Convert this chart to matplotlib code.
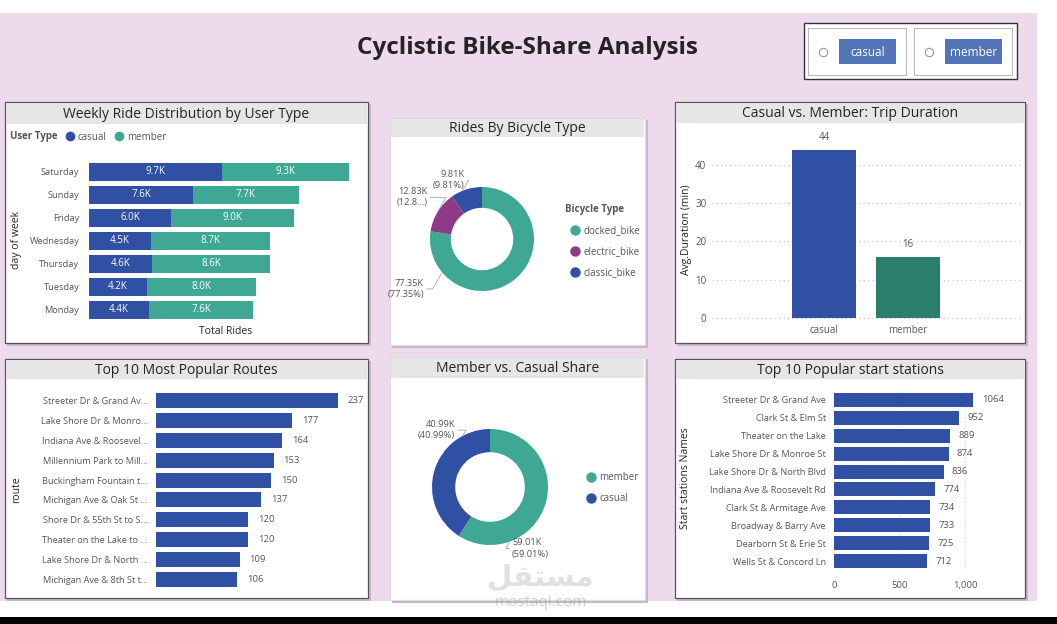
import matplotlib
matplotlib.use("Agg")
import matplotlib.pyplot as plt
from matplotlib.patches import Rectangle
from matplotlib.lines import Line2D
import numpy as np

plt.rcParams['font.family'] = ['Open Sans', 'DejaVu Sans']

# ---- data ----
days = ['Saturday', 'Sunday', 'Friday', 'Wednesday', 'Thursday', 'Tuesday', 'Monday']
casual_rides = [9.7, 7.6, 6.0, 4.5, 4.6, 4.2, 4.4]
member_rides = [9.3, 7.7, 9.0, 8.7, 8.6, 8.0, 7.6]

bike_types = ['docked_bike', 'electric_bike', 'classic_bike']
bike_rides = [77.35, 12.83, 9.81]
bike_labels = ['77.35K\n(77.35%)', '12.83K\n(12.8...)', '9.81K\n(9.81%)']

user_types = ['casual', 'member']
avg_duration = [44, 16]

routes = ['Streeter Dr & Grand Av...', 'Lake Shore Dr & Monro...', 'Indiana Ave & Roosevel...',
          'Millennium Park to Mill...', 'Buckingham Fountain t...', 'Michigan Ave & Oak St ...',
          'Shore Dr & 55th St to S...', 'Theater on the Lake to ...', 'Lake Shore Dr & North ...',
          'Michigan Ave & 8th St t...']
route_counts = [237, 177, 164, 153, 150, 137, 120, 120, 109, 106]

share_types = ['member', 'casual']
share_rides = [59.01, 40.99]
share_labels = ['59.01K\n(59.01%)', '40.99K\n(40.99%)']

stations = ['Streeter Dr & Grand Ave', 'Clark St & Elm St', 'Theater on the Lake',
            'Lake Shore Dr & Monroe St', 'Lake Shore Dr & North Blvd', 'Indiana Ave & Roosevelt Rd',
            'Clark St & Armitage Ave', 'Broadway & Barry Ave', 'Dearborn St & Erie St',
            'Wells St & Concord Ln']
station_counts = [1064, 952, 889, 874, 836, 774, 734, 733, 725, 712]

# ---- colours ----
BLUE = '#2F50A3'
TEAL = '#3EA894'
DGREEN = '#2A7E6C'
PURPLE = '#8E3A86'
LAV = '#EDDAED'
TXT = '#555555'
DARK = '#252423'

W, H = 1057, 624
fig = plt.figure(figsize=(W / 100, H / 100), dpi=100, facecolor='white')


def box(x0, y0, x1, y1):
    return [x0 / W, 1 - y1 / H, (x1 - x0) / W, (y1 - y0) / H]


def rect(x0, y0, x1, y1, zorder=-3, **kw):
    r = Rectangle((x0 / W, 1 - y1 / H), (x1 - x0) / W, (y1 - y0) / H,
                  transform=fig.transFigure, zorder=zorder, **kw)
    fig.patches.append(r)


def ftext(x, y, s, **kw):
    fig.text(x / W, 1 - y / H, s, **kw)


# background
rect(0, 13, 1037, 601, facecolor=LAV, edgecolor='none', zorder=-5)
rect(0, 617, W, H, facecolor='black', edgecolor='none', zorder=-5)

ftext(527, 48, 'Cyclistic Bike-Share Analysis', ha='center', va='center',
      fontsize=17.5, fontweight='bold', color=DARK)

# slicer
rect(804, 23, 1017, 79, facecolor='white', edgecolor='#333333', lw=1, zorder=-4)
for i, lab in enumerate(user_types):
    x0 = 808 + i * 106
    rect(x0, 28, x0 + 98, 75, facecolor='white', edgecolor='#BBBBBB', lw=0.8, zorder=-3)
    fig.add_artist(Line2D([(x0 + 15) / W], [1 - 52 / H], marker='o', ms=6, mfc='white',
                          mec='#999999', mew=0.8, transform=fig.transFigure, zorder=3))
    rect(x0 + 31, 39, x0 + 88, 64, facecolor='#5474B8', edgecolor='none', zorder=-2)
    ftext(x0 + 59.5, 52, lab, ha='center', va='center', fontsize=8.5, color='white', zorder=4)


def panel(x0, y0, x1, y1, tb, title, edge='#555555'):
    rect(x0 + 2, y0 + 2, x1 + 3, y1 + 3, facecolor='#C9B5CB', edgecolor='none', zorder=-4)
    rect(x0, y0, x1, y1, facecolor='white', edgecolor=edge, lw=0.9, zorder=-3)
    rect(x0 + 1, y0 + 1, x1 - 1, tb, facecolor='#E6E6E6', edgecolor='none', zorder=-2)
    ftext((x0 + x1) / 2, (y0 + tb) / 2 + 1, title, ha='center', va='center',
          fontsize=10, color=DARK, zorder=2)


panel(5, 102, 368, 343, 124, 'Weekly Ride Distribution by User Type')
panel(390, 118, 645, 345, 137, 'Rides By Bicycle Type', edge='#DDDDDD')
panel(675, 102, 1025, 343, 123, 'Casual vs. Member: Trip Duration')
panel(5, 359, 368, 598, 379, 'Top 10 Most Popular Routes')
panel(390, 357, 645, 600, 378, 'Member vs. Casual Share', edge='#DDDDDD')
panel(675, 359, 1025, 598, 379, 'Top 10 Popular start stations')


def clean(ax):
    for s in ax.spines.values():
        s.set_visible(False)
    ax.set_facecolor('none')
    ax.tick_params(length=0)
    ax.set_zorder(2)


# ---- weekly stacked bars ----
ax1 = fig.add_axes(box(89, 160.5, 352, 321.5))
clean(ax1)
yy = np.arange(len(days))
b1 = ax1.barh(yy, casual_rides, height=0.74, color=BLUE)
b2 = ax1.barh(yy, member_rides, left=casual_rides, height=0.74, color=TEAL)
ax1.bar_label(b1, labels=[f'{v:.1f}K' for v in casual_rides], label_type='center',
              color='white', fontsize=7)
ax1.bar_label(b2, labels=[f'{v:.1f}K' for v in member_rides], label_type='center',
              color='white', fontsize=7)
ax1.set_ylim(len(days) - 0.5, -0.5)
ax1.set_xlim(0, 19.2)
ax1.set_yticks(yy, days, fontsize=6.7, color=TXT)
ax1.tick_params(axis='y', pad=7)
ax1.set_xticks([])
ftext(226, 331, 'Total Rides', ha='center', va='center', fontsize=7.5, color=DARK)
ftext(17, 240, 'day of week', ha='center', va='center', fontsize=7.5, color=DARK, rotation=90)
ftext(10, 137, 'User Type', ha='left', va='center', fontsize=7, fontweight='bold', color=TXT)
ax1.legend(handles=[Line2D([], [], marker='o', ls='', color=c, ms=6, label=l)
                    for c, l in zip([BLUE, TEAL], user_types)],
           loc='center left', bbox_to_anchor=(60 / W, 1 - 137 / H),
           bbox_transform=fig.transFigure, ncol=2, frameon=False, fontsize=7,
           handletextpad=-0.2, columnspacing=0.3, borderaxespad=0, borderpad=0,
           labelcolor=TXT)


# ---- donuts ----
def donut(cx, cy, r, vals, colors, labels, label_pos):
    ax = fig.add_axes(box(cx - r, cy - r, cx + r, cy + r))
    ax.set_zorder(2)
    ax.set_aspect('equal')
    wedges, _ = ax.pie(vals, colors=colors, startangle=90, counterclock=False,
                       wedgeprops=dict(width=0.4, edgecolor='none'), radius=1)
    ax.set_xlim(-1, 1)
    ax.set_ylim(-1, 1)
    for w, lab, (ang, tx, ty, ha) in zip(wedges, labels, label_pos):
        a = np.deg2rad(ang)
        px, py = np.cos(a), np.sin(a)
        ax.annotate(lab, xy=(px, py), xytext=(tx, ty), ha=ha, va='center',
                    fontsize=6.7, color=TXT, linespacing=1.3,
                    arrowprops=dict(arrowstyle='-', color='#AAAAAA', lw=0.6,
                                    shrinkA=0, shrinkB=0,
                                    connectionstyle='angle,angleA=0,angleB=60,rad=0'))
    return ax


donut(482, 239, 52, bike_rides, [TEAL, PURPLE, BLUE], bike_labels,
      [(-140, -1.12, -0.96, 'right'), (152, -1.05, 0.80, 'right'), (112, -0.33, 1.13, 'right')])
donut(490, 487, 58, share_rides, [TEAL, BLUE], share_labels,
      [(-70, 0.38, -1.06, 'left'), (118, -0.60, 0.98, 'right')])


def side_legend(x, y, names, colors, title=None, spacing=1.2):
    handles = [Line2D([], [], marker='o', ls='', color=c, ms=6.5, label=n)
               for n, c in zip(names, colors)]
    leg = fig.legend(handles=handles, loc='upper left', bbox_to_anchor=(x / W, 1 - y / H),
                     frameon=False, fontsize=7, title=title, labelspacing=spacing,
                     handletextpad=-0.1, borderpad=0, borderaxespad=0, labelcolor=TXT,
                     title_fontproperties=dict(size=7, weight='bold'))
    if title:
        leg.get_title().set_color(TXT)
        leg._legend_box.align = 'left'


side_legend(565, 204, bike_types, [TEAL, PURPLE, BLUE], title='Bicycle Type', spacing=1.05)
side_legend(581, 472, share_types, [TEAL, BLUE], spacing=1.05)

# ---- trip duration ----
ax3 = fig.add_axes(box(712, 130, 1020, 322))
clean(ax3)
xx = np.arange(len(user_types))
bars = ax3.bar(xx, avg_duration, width=0.77, color=[BLUE, DGREEN], zorder=2)
ax3.bar_label(bars, padding=5, fontsize=7, color=TXT)
ax3.set_xlim(-1.33, 2.33)
ax3.set_ylim(-1.04, 49.1)
ax3.set_yticks([0, 10, 20, 30, 40])
ax3.tick_params(axis='y', labelsize=7, labelcolor=TXT, pad=4)
ax3.set_xticks(xx, user_types, fontsize=7, color=TXT)
ax3.tick_params(axis='x', pad=2)
ax3.grid(axis='y', color='#BBBBBB', ls=(0, (1, 3)), lw=0.8, zorder=0)
ftext(686, 230, 'Avg.Duration (min)', ha='center', va='center', fontsize=7.5,
      color=DARK, rotation=90)

# ---- routes ----
ax4 = fig.add_axes(box(156, 391, 345, 589))
clean(ax4)
yr = np.arange(len(routes))
rb = ax4.barh(yr, route_counts, height=0.76, color=BLUE)
ax4.bar_label(rb, padding=7, fontsize=6.8, color=TXT)
ax4.set_ylim(len(routes) - 0.5, -0.5)
ax4.set_xlim(0, 246)
ax4.set_yticks(yr, routes, fontsize=6.6, color=TXT)
ax4.tick_params(axis='y', pad=6)
ax4.set_xticks([])
ftext(17, 490, 'route', ha='center', va='center', fontsize=7.5, color=DARK, rotation=90)

# ---- stations ----
ax6 = fig.add_axes(box(834, 391, 1000, 570))
clean(ax6)
ys = np.arange(len(stations))
sb = ax6.barh(ys, station_counts, height=0.78, color=BLUE, zorder=2)
ax6.bar_label(sb, padding=6, fontsize=6.8, color=TXT)
ax6.set_ylim(len(stations) - 0.5, -0.5)
ax6.set_xlim(0, 1267)
ax6.set_yticks(ys, stations, fontsize=6.6, color=TXT)
ax6.tick_params(axis='y', pad=6)
ax6.set_xticks([0, 500, 1000], ['0', '500', '1,000'], fontsize=6.8, color=TXT)
ax6.tick_params(axis='x', pad=8)
ax6.grid(axis='x', color='#CCCCCC', ls=(0, (1, 2)), lw=0.6, zorder=0)
ftext(686, 478, 'Start stations Names', ha='center', va='center', fontsize=7.5,
      color=DARK, rotation=90)

# watermark
ftext(540, 578, '\uFEDE\uFED8\uFE98\uFEB4\uFEE3', ha='center', va='center', fontsize=21,
      fontweight='bold', color='#999999', alpha=0.3, family=['DejaVu Sans'], zorder=10)
ftext(541, 602, 'mostaql.com', ha='center', va='center', fontsize=11,
      color='#999999', alpha=0.45, zorder=10)

fig.savefig('out.png', dpi=100, facecolor='white')
